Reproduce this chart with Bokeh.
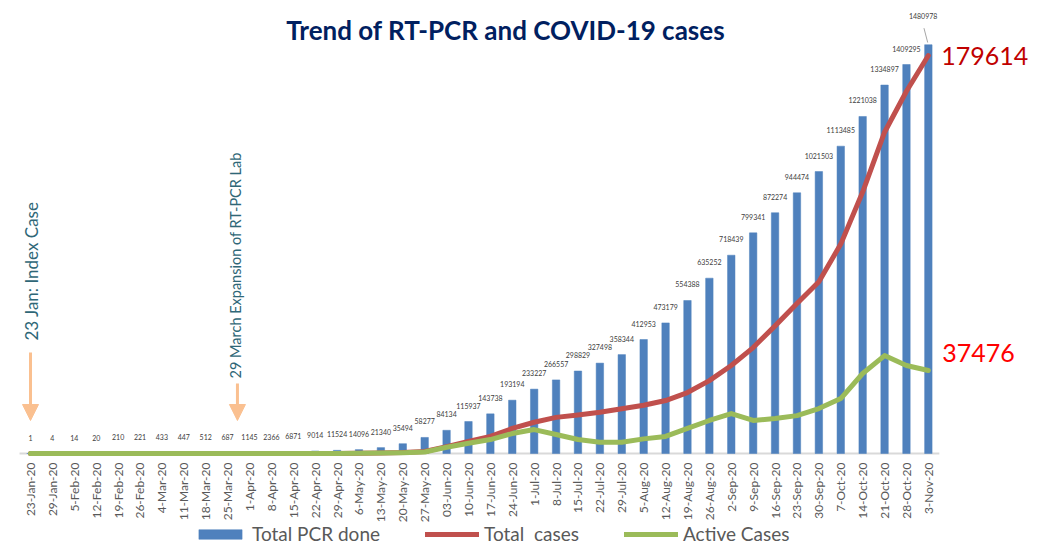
import math
from bokeh.plotting import figure
from bokeh.models import (Range1d, Legend, LegendItem, Arrow, NormalHead, ColumnDataSource)
from bokeh.core.properties import value
from bokeh.embed import file_html
from bokeh.resources import INLINE

# ---------------- data ----------------
dates = ["23-Jan-20", "29-Jan-20", "5-Feb-20", "12-Feb-20", "19-Feb-20", "26-Feb-20",
         "4-Mar-20", "11-Mar-20", "18-Mar-20", "25-Mar-20", "1-Apr-20", "8-Apr-20",
         "15-Apr-20", "22-Apr-20", "29-Apr-20", "6-May-20", "13-May-20", "20-May-20",
         "27-May-20", "03-Jun-20", "10-Jun-20", "17-Jun-20", "24-Jun-20", "1-Jul-20",
         "8-Jul-20", "15-Jul-20", "22-Jul-20", "29-Jul-20", "5-Aug-20", "12-Aug-20",
         "19-Aug-20", "26-Aug-20", "2-Sep-20", "9-Sep-20", "16-Sep-20", "23-Sep-20",
         "30-Sep-20", "7-Oct-20", "14-Oct-20", "21-Oct-20", "28-Oct-20", "3-Nov-20"]

pcr_done = [1, 4, 14, 20, 210, 221, 433, 447, 512, 687, 1145, 2366, 6871, 9014, 11524,
            14096, 21340, 35494, 58277, 84134, 115937, 143738, 193194, 233227, 266557,
            298829, 327498, 358344, 412953, 473179, 554388, 635252, 718439, 799341,
            872274, 944474, 1021503, 1113485, 1221038, 1334897, 1409295, 1480978]

total_cases = [1, 1, 1, 1, 1, 1, 1, 1, 1, 3, 5, 9, 16, 49, 57, 99, 249, 427, 900, 3100,
               5400, 7700, 11300, 14100, 16300, 17400, 18600, 20200, 21800, 23900, 27500,
               32900, 39700, 47800, 57600, 67700, 77500, 94500, 118000, 145000, 163500,
               179614]

active_cases = [1, 1, 1, 1, 1, 1, 1, 1, 1, 3, 5, 8, 15, 30, 40, 70, 220, 380, 700, 2800,
                4600, 6300, 9000, 10800, 8600, 6300, 5100, 5100, 6600, 7700, 11300, 14900,
                18000, 14900, 15800, 17100, 20300, 24800, 36100, 44200, 39700, 37476]

series_names = ["Total PCR done", "Total  cases", "Active Cases"]
title_text = "Trend of RT-PCR and COVID-19 cases"
note_index = "23 Jan: Index Case"
note_lab = "29 March Expansion of RT-PCR Lab"

# ---------------- figure ----------------
FONT = "Lato"
idx = list(range(len(dates)))
src = ColumnDataSource(dict(x=idx, pcr=pcr_done, total=total_cases, active=active_cases,
                            d=dates, z=[0] * len(dates)))

p = figure(width=1031, height=546,
           x_range=Range1d(-1.37, 45.71), y_range=Range1d(-336900, 1641200),
           output_backend="svg", toolbar_location=None,
           x_axis_location=None, y_axis_location=None,
           min_border=0, outline_line_color=None,
           background_fill_color="white", border_fill_color="white")
p.extra_y_ranges = {"cases": Range1d(-41970, 204440)}
p.xgrid.visible = False
p.ygrid.visible = False

# category (date) labels along the baseline, placed via the x scale
p.text(x="x", y="z", text="d", source=src, angle=math.pi / 2, y_offset=9,
       text_align="right", text_baseline="middle", text_font=value(FONT),
       text_font_size="12px", text_color="#595959")

# baseline
p.segment(x0=[-0.5], y0=[0], x1=[len(dates) - 0.5], y1=[0], line_color="#D9D9D9", line_width=2)

bars = p.vbar(x="x", top="pcr", width=0.34, source=src, fill_color="#4F81BD",
              line_color="#4F81BD", line_width=0.5)
red = p.line("x", "total", source=src, y_range_name="cases", line_color="#C0504D",
             line_width=5, line_join="round", line_cap="round")
green = p.line("x", "active", source=src, y_range_name="cases", line_color="#9BBB59",
               line_width=5, line_join="round", line_cap="round")

# bar value labels (all but last placed above bars)
lab_src = ColumnDataSource(dict(x=idx[:-1], y=pcr_done[:-1], t=[str(v) for v in pcr_done[:-1]]))
p.text(x="x", y="y", text="t", source=lab_src, y_offset=-16, text_align="center",
       text_baseline="middle", text_font=value(FONT), text_font_size="7px",
       text_color="#404040")
# last value label with leader line
last = idx[-1]
p.segment(x0=[last - 0.03], y0=[pcr_done[-1] + 8000], x1=[last - 0.2], y1=[pcr_done[-1] + 60000],
          line_color="#A6A6A6", line_width=1)
p.text(x=[last - 0.24], y=[pcr_done[-1] + 104000], text=[str(pcr_done[-1])],
       text_align="center", text_baseline="middle", text_font=value(FONT),
       text_font_size="7px", text_color="#404040")

# end labels for lines
p.text(x=[last], y=[total_cases[-1]], y_range_name="cases", text=[str(total_cases[-1])],
       x_offset=13, text_align="left", text_baseline="middle", text_font=value(FONT),
       text_font_size="25px", text_color="#C00000")
p.text(x=[last], y=[active_cases[-1]], y_range_name="cases", text=[str(active_cases[-1])],
       x_offset=14, y_offset=-17, text_align="left", text_baseline="middle",
       text_font=value(FONT), text_font_size="25px", text_color="#FF0000")

# title
p.text(x=[21.7], y=[1535000], text=[title_text], text_align="center", text_baseline="middle",
       text_font=value(FONT), text_font_style="bold", text_font_size="26px",
       text_color="#002060")

# annotations with arrows
arrow_col = "#FAC090"
p.add_layout(Arrow(end=NormalHead(size=16, fill_color=arrow_col, line_color=arrow_col),
                   x_start=0, y_start=366000, x_end=0, y_end=119600,
                   line_color=arrow_col, line_width=3))
p.add_layout(Arrow(end=NormalHead(size=16, fill_color=arrow_col, line_color=arrow_col),
                   x_start=9.45, y_start=253600, x_end=9.45, y_end=119600,
                   line_color=arrow_col, line_width=3))
p.text(x=[0.05], y=[409400], text=[note_index], angle=math.pi / 2, text_align="left",
       text_baseline="middle", text_font=value(FONT), text_font_size="17px",
       text_color="#2F6777")
p.text(x=[9.36], y=[271700], text=[note_lab], angle=math.pi / 2, text_align="left",
       text_baseline="middle", text_font=value(FONT), text_font_size="14.5px",
       text_color="#2F6777")

# legend at the bottom, under the date labels
legend = Legend(items=[LegendItem(label=series_names[0], renderers=[bars]),
                       LegendItem(label=series_names[1], renderers=[red]),
                       LegendItem(label=series_names[2], renderers=[green])],
                orientation="horizontal", location=(193, 1), border_line_color=None,
                background_fill_alpha=0, label_text_font=FONT, label_text_font_size="19px",
                label_text_color="#595959", glyph_width=54, glyph_height=12, spacing=45,
                label_standoff=5, label_height=18, margin=0, padding=0)
p.add_layout(legend)

open("out.html", "w").write(file_html(p, INLINE))
